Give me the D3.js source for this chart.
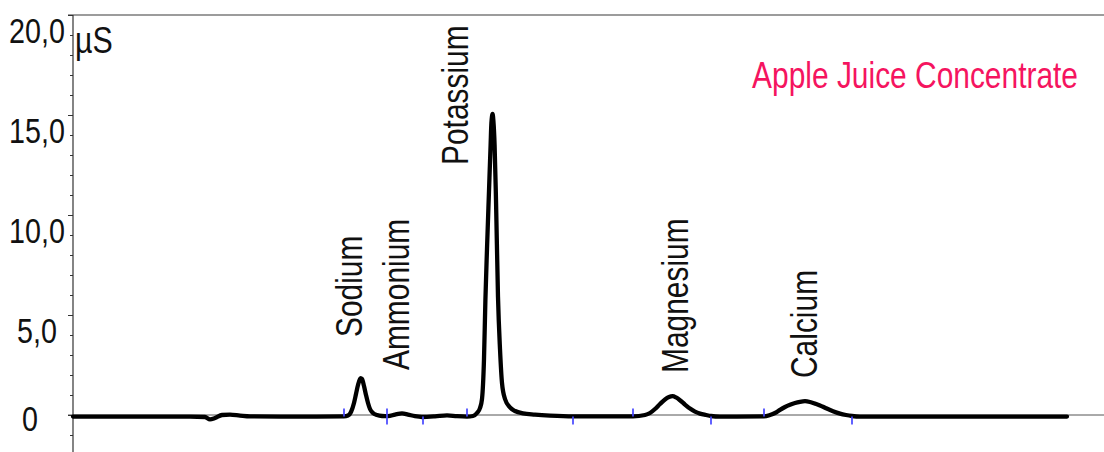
<!DOCTYPE html>
<html>
<head>
<meta charset="utf-8">
<script src="https://cdn.jsdelivr.net/npm/d3@7"></script>
<style>
  html, body { margin: 0; padding: 0; background: #fff; }
  svg { display: block; }
  text { font-family: "Liberation Sans", Arial, sans-serif; }
</style>
</head>
<body>
<svg id="chart" width="1104" height="452"></svg>
<script>
// ---- data ----
const title = "Apple Juice Concentrate";
const unitLabel = "µS";
const yMajorTicks = [0, 5, 10, 15, 20];
const yTickLabels = ["0", "5,0", "10,0", "15,0", "20,0"];
const yMinorTicks = [-1, 1, 2, 3, 4, 6, 7, 8, 9, 11, 12, 13, 14, 16, 17, 18, 19];

// retention time (min) and conductivity (µS)
const times = [
  0, 2.925, 3.3, 3.425, 3.55, 3.725, 3.925, 4.175, 4.425, 5.675,
  6.775, 6.875, 6.95, 7.025, 7.075, 7.125, 7.19, 7.225, 7.275, 7.325,
  7.375, 7.425, 7.5, 7.6, 7.725, 7.875, 8.05, 8.225, 8.375, 8.55,
  8.725, 9.05, 9.35, 9.6, 9.85, 10.0, 10.1, 10.175, 10.225, 10.275,
  10.31, 10.35, 10.4, 10.44, 10.46, 10.49, 10.51, 10.54, 10.575, 10.625,
  10.675, 10.725, 10.8, 10.925, 11.05, 11.25, 11.55, 11.925, 12.5, 14.0,
  14.3, 14.425, 14.55, 14.675, 14.8, 14.9, 14.99, 15.075, 15.175, 15.3,
  15.425, 15.55, 15.675, 15.825, 15.95, 16.175, 17.275, 17.425, 17.55, 17.675,
  17.8, 17.925, 18.05, 18.175, 18.3, 18.425, 18.55, 18.675, 18.825, 19.0,
  19.175, 19.325, 19.475, 19.675, 24.85
];
const signal = [
  -0.08, -0.08, -0.1, -0.22, -0.15, 0.0, 0.02, -0.03, -0.07, -0.08,
  -0.07, -0.03, 0.15, 0.6, 1.05, 1.5, 1.84, 1.8, 1.45, 1.0,
  0.6, 0.3, 0.1, 0.0, -0.05, -0.06, 0.02, 0.08, 0.02, -0.06,
  -0.1, -0.07, -0.02, -0.06, -0.08, -0.05, 0.1, 0.35, 0.8, 2.8,
  5.75, 8.3, 11.2, 13.5, 14.6, 15.05, 14.7, 13.5, 10.75, 5.9,
  3.3, 1.6, 0.8, 0.38, 0.2, 0.08, 0.02, -0.03, -0.07, -0.07,
  0.0, 0.1, 0.3, 0.55, 0.78, 0.9, 0.94, 0.88, 0.74, 0.52,
  0.32, 0.17, 0.07, 0.0, -0.05, -0.08, -0.07, 0.0, 0.1, 0.26,
  0.4, 0.51, 0.6, 0.66, 0.69, 0.65, 0.57, 0.48, 0.34, 0.19,
  0.07, 0.0, -0.05, -0.08, -0.08
];

// peak names and their retention times
const peakNames = ["Sodium", "Ammonium", "Potassium", "Magnesium", "Calcium"];
const peakTimes = [7.19, 8.225, 10.49, 14.99, 18.3];

// integration markers (min)
const markStarts = [6.775, 9.85, 14.0, 17.275];
const markEnds = [8.75, 12.5, 15.95, 19.475];
const markBoth = [7.85];

// ---- layout ----
const svg = d3.select("#chart");
const W = 1104, H = 452;
const axisX = 73;
const NARROW = 0.82;   // condense factor (Arial Narrow look)
const x = d3.scaleLinear().domain([0, 24.85]).range([73, 1067]);
const y = d3.scaleLinear().domain([0, 20]).range([415, 15]);
const baselineVal = -0.08;

// frame lines
svg.append("line").attr("x1", 68).attr("x2", W).attr("y1", y(20)).attr("y2", y(20))
  .attr("stroke", "#3a3a3a").attr("stroke-width", 1.2);
svg.append("line").attr("x1", 68).attr("x2", W).attr("y1", y(0)).attr("y2", y(0))
  .attr("stroke", "#555").attr("stroke-width", 1);

// minor ticks
const gMinor = svg.append("g").attr("transform", `translate(${axisX},0)`)
  .call(d3.axisLeft(y).tickValues(yMinorTicks).tickSize(3).tickFormat(""));
gMinor.select(".domain").remove();
gMinor.selectAll("line").attr("stroke", "#333");

// major ticks
const gMajor = svg.append("g").attr("transform", `translate(${axisX},0)`)
  .call(d3.axisLeft(y).tickValues(yMajorTicks).tickSize(5)
    .tickFormat((d, i) => yTickLabels[i]));
gMajor.select(".domain").remove();
gMajor.selectAll("line").attr("stroke", "#333");
gMajor.selectAll("text")
  .attr("font-family", '"Liberation Sans", Arial, sans-serif')
  .attr("font-size", 35)
  .attr("fill", "#111")
  .attr("text-anchor", "middle")
  .attr("x", 0).attr("y", 0).attr("dy", null)
  .attr("transform", d => `translate(${d === 0 ? 30 - axisX : 37 - axisX},${d === 0 ? 15 : 27}) scale(${NARROW},1)`);

// y axis line
svg.append("line").attr("x1", axisX).attr("x2", axisX).attr("y1", y(20)).attr("y2", H)
  .attr("stroke", "#333").attr("stroke-width", 1.2);

// unit label
svg.append("text").attr("transform", `translate(75,53) scale(${NARROW},1)`)
  .attr("font-size", 37).attr("fill", "#111").text(unitLabel);

// title
svg.append("text").attr("transform", `translate(1078,88) scale(${NARROW},1)`)
  .attr("text-anchor", "end").attr("font-size", 36.5).attr("fill", "#f5145f").text(title);

// trace
const pts = times.map((tm, i) => [tm, signal[i]]);
const line = d3.line().x(d => x(d[0])).y(d => y(d[1])).curve(d3.curveMonotoneX);
svg.append("path").datum(pts).attr("d", line)
  .attr("fill", "none").attr("stroke", "#000").attr("stroke-width", 4.3)
  .attr("stroke-linejoin", "round").attr("stroke-linecap", "round");

// integration markers
const mk = svg.append("g").attr("stroke", "#4646ff").attr("stroke-width", 1.7);
markStarts.forEach(m => mk.append("line").attr("x1", x(m)).attr("x2", x(m))
  .attr("y1", y(baselineVal) - 8).attr("y2", y(baselineVal)));
markEnds.forEach(m => mk.append("line").attr("x1", x(m)).attr("x2", x(m))
  .attr("y1", y(baselineVal)).attr("y2", y(baselineVal) + 8));
markBoth.forEach(m => mk.append("line").attr("x1", x(m)).attr("x2", x(m))
  .attr("y1", y(baselineVal) - 8).attr("y2", y(baselineVal) + 8));

// peak labels (rotated); offsets relative to each peak apex
const labelOffsets = {
  Sodium:    { dx: 1.5,   yStart: 337 },
  Ammonium:  { dx: 7,     yStart: 370 },
  Potassium: { dx: -24.5, yStart: 165 },
  Magnesium: { dx: 15,    yStart: 373 },
  Calcium:   { dx: 12,    yStart: 378 }
};
peakNames.forEach((name, i) => {
  const o = labelOffsets[name];
  const bx = x(peakTimes[i]) + o.dx;
  svg.append("text")
    .attr("transform", `translate(${bx},${o.yStart}) rotate(-90) scale(${NARROW},1)`)
    .attr("font-size", 36.5).attr("fill", "#111").text(name);
});
</script>
</body>
</html>
